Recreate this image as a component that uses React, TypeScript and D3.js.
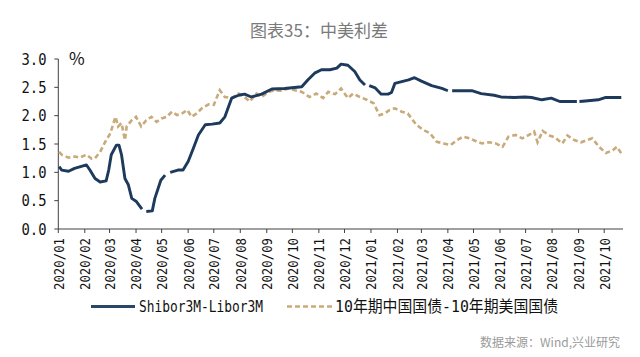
import React from "react";
import * as d3 from "d3";

const title = "图表35：中美利差";
const unitLabel = "%";
const sourceText = "数据来源：Wind,兴业研究";
const seriesNames = ["Shibor3M-Libor3M", "10年期中国国债-10年期美国国债"];
const yTicks = [0, 0.5, 1.0, 1.5, 2.0, 2.5, 3.0];
const xTickMonths = [
  "2020-01-01", "2020-02-01", "2020-03-01", "2020-04-01", "2020-05-01", "2020-06-01",
  "2020-07-01", "2020-08-01", "2020-09-01", "2020-10-01", "2020-11-01", "2020-12-01",
  "2021-01-01", "2021-02-01", "2021-03-01", "2021-04-01", "2021-05-01", "2021-06-01",
  "2021-07-01", "2021-08-01", "2021-09-01", "2021-10-01",
];

const shiborDates = [
  "2020-01-02", "2020-01-05", "2020-01-13", "2020-01-20", "2020-02-03", "2020-02-07",
  "2020-02-13", "2020-02-19", "2020-02-26", "2020-02-29", "2020-03-03", "2020-03-09",
  "2020-03-12", "2020-03-15", "2020-03-19", "2020-03-23", "2020-03-27", "2020-04-01",
  "2020-04-08", "2020-04-10", "2020-04-13", "2020-04-20", "2020-04-23", "2020-04-30",
  "2020-05-05", "2020-05-08", "2020-05-11", "2020-05-20", "2020-05-26", "2020-06-01",
  "2020-06-07", "2020-06-13", "2020-06-21", "2020-06-29", "2020-07-08", "2020-07-14",
  "2020-07-22", "2020-07-30", "2020-08-06", "2020-08-14", "2020-08-26", "2020-09-07",
  "2020-09-22", "2020-10-12", "2020-10-19", "2020-10-27", "2020-11-04", "2020-11-14",
  "2020-11-22", "2020-11-27", "2020-12-05", "2020-12-13", "2020-12-19", "2020-12-25",
  "2020-12-27", "2020-12-30", "2021-01-06", "2021-01-13", "2021-01-21", "2021-01-25",
  "2021-01-29", "2021-02-06", "2021-02-14", "2021-02-21", "2021-03-01", "2021-03-13",
  "2021-03-25", "2021-04-01", "2021-04-04", "2021-04-06", "2021-04-17", "2021-04-29",
  "2021-05-10", "2021-05-25", "2021-06-02", "2021-06-18", "2021-06-30", "2021-07-08",
  "2021-07-20", "2021-07-31", "2021-08-10", "2021-08-20", "2021-08-30", "2021-09-01",
  "2021-09-02", "2021-09-09", "2021-09-24", "2021-10-02", "2021-10-10", "2021-10-21",
];
const shiborValues: (number | null)[] = [
  1.10, 1.04, 1.02, 1.07, 1.13, 1.04,
  0.89, 0.83, 0.85, 1.04, 1.31, 1.48,
  1.48, 1.31, 0.89, 0.78, 0.54, 0.49,
  0.35, null, 0.31, 0.32, 0.54, 0.86,
  0.95, null, 1.00, 1.04, 1.04, 1.19,
  1.42, 1.66, 1.84, 1.85, 1.87, 1.98,
  2.31, 2.36, 2.38, 2.33, 2.38, 2.47,
  2.48, 2.51, 2.63, 2.75, 2.81, 2.81,
  2.84, 2.91, 2.89, 2.78, 2.63, 2.54,
  null, 2.53, 2.49, 2.38, 2.38, 2.41,
  2.57, 2.60, 2.63, 2.67, 2.61, 2.53,
  2.48, 2.44, null, 2.44, 2.44, 2.44,
  2.39, 2.36, 2.33, 2.32, 2.33, 2.32,
  2.28, 2.31, 2.25, 2.25, 2.25, null,
  2.25, 2.26, 2.28, 2.32, 2.32, 2.32,
];

const bondDates = [
  "2020-01-02", "2020-01-05", "2020-01-13", "2020-01-21", "2020-01-26", "2020-02-03",
  "2020-02-09", "2020-02-13", "2020-02-19", "2020-02-25", "2020-03-02", "2020-03-05",
  "2020-03-08", "2020-03-11", "2020-03-15", "2020-03-19", "2020-03-21", "2020-03-27",
  "2020-04-01", "2020-04-07", "2020-04-13", "2020-04-19", "2020-04-25", "2020-05-01",
  "2020-05-07", "2020-05-13", "2020-05-19", "2020-05-25", "2020-05-31", "2020-06-05",
  "2020-06-11", "2020-06-17", "2020-06-25", "2020-07-01", "2020-07-08", "2020-07-14",
  "2020-07-22", "2020-07-30", "2020-08-06", "2020-08-12", "2020-08-20", "2020-08-26",
  "2020-09-03", "2020-09-10", "2020-09-18", "2020-09-26", "2020-10-04", "2020-10-12",
  "2020-10-21", "2020-10-29", "2020-11-06", "2020-11-12", "2020-11-20", "2020-11-27",
  "2020-12-05", "2020-12-11", "2020-12-19", "2020-12-27", "2021-01-04", "2021-01-11",
  "2021-01-17", "2021-01-23", "2021-01-29", "2021-02-06", "2021-02-13", "2021-02-23",
  "2021-03-03", "2021-03-11", "2021-03-19", "2021-03-27", "2021-04-04", "2021-04-12",
  "2021-04-19", "2021-04-27", "2021-05-05", "2021-05-11", "2021-05-19", "2021-05-27",
  "2021-06-04", "2021-06-11", "2021-06-19", "2021-06-27", "2021-07-05", "2021-07-11",
  "2021-07-15", "2021-07-21", "2021-07-29", "2021-08-05", "2021-08-13", "2021-08-19",
  "2021-08-27", "2021-09-04", "2021-09-11", "2021-09-17", "2021-09-25", "2021-10-03",
  "2021-10-11", "2021-10-16", "2021-10-22",
];
const bondValues = [
  1.36, 1.31, 1.26, 1.28, 1.26, 1.31,
  1.24, 1.25, 1.36, 1.54, 1.69, 1.84,
  1.98, 1.81, 1.87, 1.57, 1.81, 1.92,
  1.98, 1.81, 1.92, 1.98, 1.89, 1.95,
  1.98, 2.07, 2.01, 2.04, 2.10, 1.98,
  2.04, 2.13, 2.20, 2.19, 2.45, 2.33,
  2.31, 2.39, 2.33, 2.25, 2.39, 2.33,
  2.42, 2.45, 2.44, 2.48, 2.45, 2.42,
  2.33, 2.39, 2.31, 2.42, 2.38, 2.48,
  2.31, 2.39, 2.33, 2.28, 2.22, 2.01,
  2.04, 2.10, 2.13, 2.07, 2.04, 1.84,
  1.75, 1.69, 1.54, 1.51, 1.48, 1.57,
  1.63, 1.60, 1.54, 1.51, 1.53, 1.51,
  1.45, 1.63, 1.66, 1.60, 1.66, 1.72,
  1.53, 1.73, 1.65, 1.61, 1.51, 1.65,
  1.57, 1.53, 1.57, 1.60, 1.45, 1.34,
  1.39, 1.45, 1.31,
];

const parse = d3.timeParse("%Y-%m-%d");
const fmtMonth = d3.timeFormat("%Y/%m");
const fmtY = d3.format(".1f");

const BLUE = "#1d3a5c";
const GOLD = "#c9aa7a";
const AXIS = "#404040";
const MONO = "'DejaVu Sans Mono', 'Liberation Mono', monospace";
const CJK = "'Noto Sans CJK SC', 'Noto Sans', sans-serif";

export default function App() {
  const x = d3
    .scaleTime()
    .domain([parse("2020-01-01")!, parse("2021-10-23")!])
    .range([58.3, 623]);
  const y = d3.scaleLinear().domain([0, 3]).range([229, 59]);

  const shibor = shiborDates.map((d, i) => ({ date: parse(d)!, v: shiborValues[i] }));
  const bond = bondDates.map((d, i) => ({ date: parse(d)!, v: bondValues[i] as number | null }));

  const line = d3
    .line<{ date: Date; v: number | null }>()
    .defined((d) => d.v !== null)
    .x((d) => x(d.date))
    .y((d) => y(d.v as number));

  const [x0, x1] = x.range();
  const [yb, yt] = y.range();

  return (
    <svg
      width={640}
      height={357}
      style={{ position: "absolute", left: 0, top: 0, background: "#fff" }}
    >
      <rect width={640} height={357} fill="#fff" />
      <text x={319} y={37} textAnchor="middle" fontFamily={CJK} fontSize={17} fill="#7a7a7a">
        {title}
      </text>

      {/* Y axis */}
      <line x1={x0} x2={x0} y1={yb} y2={yt} stroke={AXIS} strokeWidth={1} />
      {yTicks.map((t) => (
        <g key={t}>
          <line x1={x0 - 4} x2={x0} y1={y(t)} y2={y(t)} stroke={AXIS} strokeWidth={1} />
          <text
            x={46.5}
            y={y(t)}
            dy="0.36em"
            textAnchor="end"
            fontFamily={MONO}
            fontSize={16}
            fill="#111"
            textLength={25}
            lengthAdjust="spacingAndGlyphs"
          >
            {fmtY(t)}
          </text>
        </g>
      ))}
      <text x={69} y={y(3) + 6} fontFamily={CJK} fontSize={17} fill="#111">
        {unitLabel}
      </text>

      {/* X axis */}
      <line x1={x0} x2={x1} y1={yb} y2={yb} stroke={AXIS} strokeWidth={1} />
      {xTickMonths.map((m) => {
        const d = parse(m)!;
        const px = x(d);
        return (
          <g key={m}>
            <line x1={px} x2={px} y1={yb} y2={yb + 4} stroke={AXIS} strokeWidth={1} />
            <text
              transform={`translate(${px},238) rotate(-90)`}
              dy="0.37em"
              textAnchor="end"
              fontFamily={MONO}
              fontSize={14.5}
              fill="#111"
              textLength={52}
              lengthAdjust="spacingAndGlyphs"
            >
              {fmtMonth(d)}
            </text>
          </g>
        );
      })}

      {/* Series */}
      <path
        d={line(bond) ?? ""}
        fill="none"
        stroke={GOLD}
        strokeWidth={2.6}
        strokeDasharray="5,3"
      />
      <path
        d={line(shibor) ?? ""}
        fill="none"
        stroke={BLUE}
        strokeWidth={2.9}
        strokeLinejoin="round"
      />

      {/* Legend */}
      <line x1={91} x2={135} y1={306.5} y2={306.5} stroke="#2b4666" strokeWidth={2.8} />
      <text
        x={139}
        y={306.5}
        dy="0.37em"
        fontFamily={MONO}
        fontSize={16}
        fill="#111"
        textLength={124}
        lengthAdjust="spacingAndGlyphs"
      >
        {seriesNames[0]}
      </text>
      <line
        x1={287}
        x2={333}
        y1={306.5}
        y2={306.5}
        stroke={GOLD}
        strokeWidth={2.6}
        strokeDasharray="5,3"
      />
      <text
        x={335}
        y={306.5}
        dy="0.37em"
        fontFamily={`'DejaVu Sans Mono', 'Noto Sans CJK SC', monospace`}
        fontSize={16}
        fill="#111"
        textLength={223}
        lengthAdjust="spacingAndGlyphs"
      >
        {seriesNames[1]}
      </text>

      <text
        x={620}
        y={347}
        textAnchor="end"
        fontFamily={CJK}
        fontSize={12}
        fill="#9a9a9a"
      >
        {sourceText}
      </text>
    </svg>
  );
}
